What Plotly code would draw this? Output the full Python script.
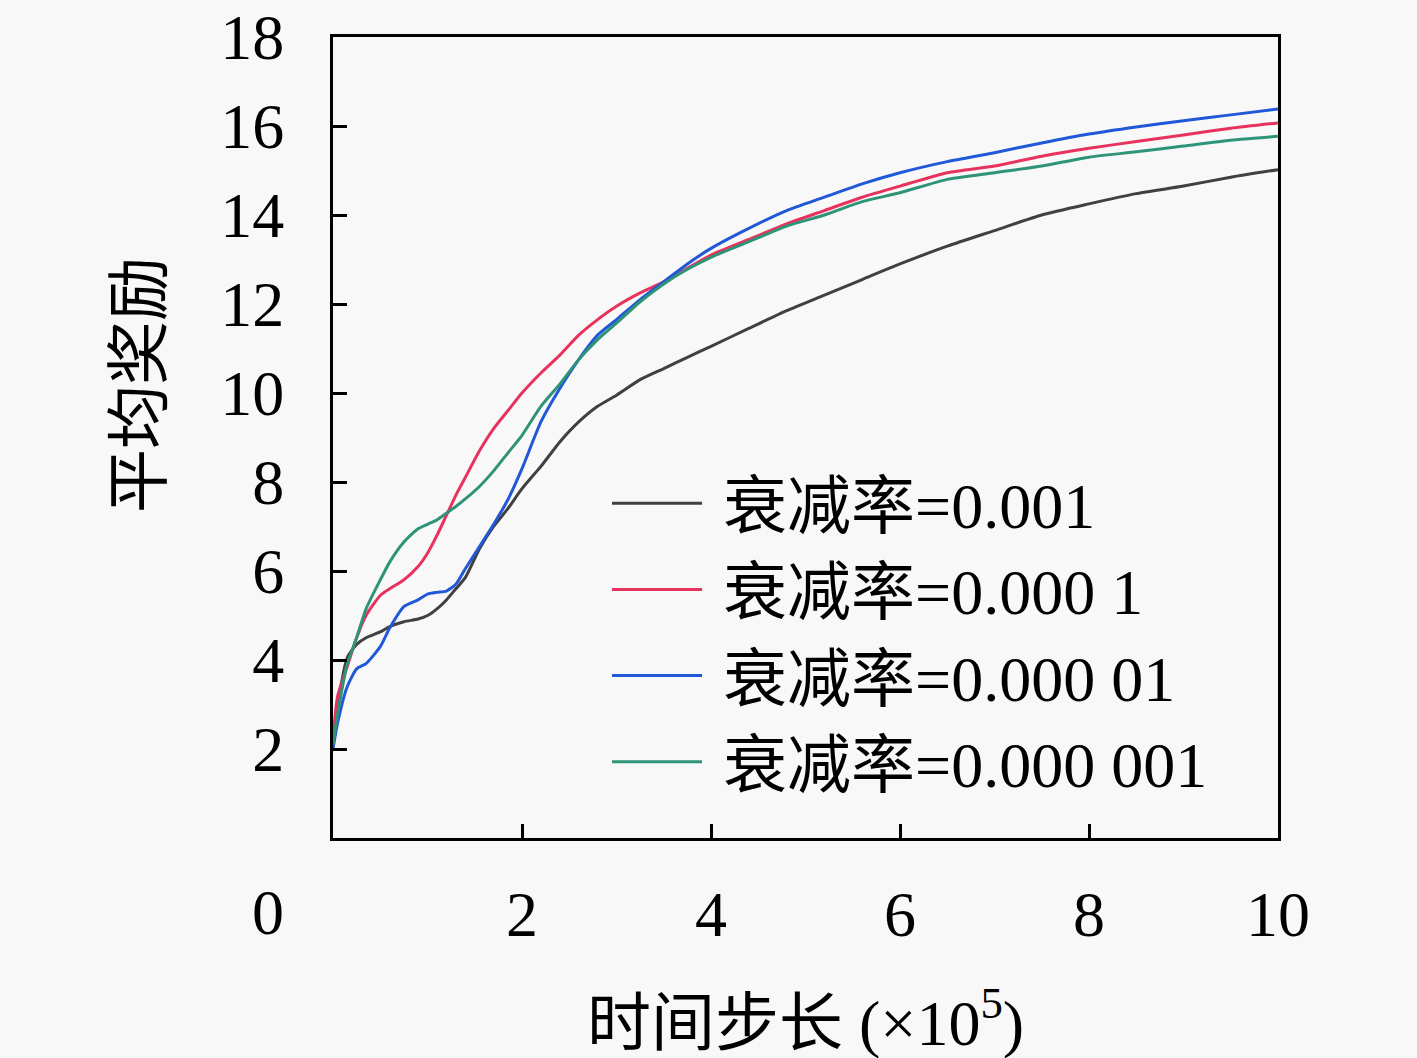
import plotly.graph_objects as go

# time steps (x 1e5)
steps = [0, 0.05, 0.15, 0.25, 0.35, 0.5, 0.6, 0.75, 0.9, 1.0, 1.1, 1.2, 1.3, 1.4,
         1.55, 1.7, 1.85, 2.0, 2.2, 2.4, 2.6, 2.8, 3.0, 3.25, 3.5, 3.75, 4.0,
         4.4, 4.8, 5.2, 5.6, 6.0, 6.5, 7.0, 7.5, 8.0, 8.5, 9.0, 9.5, 10.0]

# average reward per decay rate
reward_1e3 = [2.2, 3.0, 4.05, 4.35, 4.5, 4.63, 4.75, 4.86, 4.92, 5.0, 5.15, 5.35, 5.6, 5.85,
              6.5, 7.0, 7.4, 7.85, 8.35, 8.9, 9.35, 9.7, 9.95, 10.3, 10.55, 10.8, 11.05,
              11.45, 11.85, 12.2, 12.55, 12.9, 13.3, 13.65, 14.0, 14.25, 14.48, 14.65, 14.85, 15.02]
reward_1e4 = [2.2, 3.2, 3.85, 4.5, 5.0, 5.45, 5.6, 5.8, 6.1, 6.4, 6.8, 7.25, 7.7, 8.1,
              8.7, 9.2, 9.6, 10.0, 10.45, 10.85, 11.3, 11.65, 11.95, 12.25, 12.5, 12.8, 13.1,
              13.45, 13.8, 14.1, 14.4, 14.65, 14.95, 15.1, 15.32, 15.5, 15.65, 15.8, 15.95, 16.07]
reward_1e5 = [2.0, 2.6, 3.4, 3.8, 3.92, 4.3, 4.72, 5.2, 5.35, 5.48, 5.52, 5.55, 5.7, 6.05,
              6.55, 7.05, 7.6, 8.3, 9.35, 10.1, 10.75, 11.3, 11.65, 12.1, 12.5, 12.9, 13.25,
              13.7, 14.1, 14.4, 14.7, 14.95, 15.2, 15.4, 15.62, 15.82, 15.98, 16.12, 16.25, 16.38]
reward_1e6 = [2.1, 2.8, 3.9, 4.5, 5.15, 5.8, 6.2, 6.65, 6.95, 7.05, 7.15, 7.3, 7.45, 7.62,
              7.9, 8.25, 8.65, 9.05, 9.7, 10.2, 10.75, 11.2, 11.57, 12.05, 12.45, 12.78, 13.05,
              13.4, 13.75, 14.0, 14.3, 14.5, 14.8, 14.95, 15.1, 15.3, 15.42, 15.55, 15.68, 15.77]

names = ["衰减率=0.001", "衰减率=0.000 1", "衰减率=0.000 01", "衰减率=0.000 001"]
colors = ["#404040", "#e8325e", "#2058d8", "#2e9478"]
series = [reward_1e3, reward_1e4, reward_1e5, reward_1e6]

xticks = [2, 4, 6, 8, 10]
yticks = [2, 4, 6, 8, 10, 12, 14, 16, 18]

FONT = "Liberation Serif, Noto Sans CJK SC, serif"
FS = 64

fig = go.Figure()
for i, (name, ys) in enumerate(zip(names, series)):
    fig.add_trace(go.Scatter(
        x=steps, y=ys, name="\u00a0" + name, mode="lines",
        line=dict(color=colors[i], width=3, shape="spline", smoothing=0.6),
        legendgroup=str(i),
    ))

fig.update_layout(
    width=1417, height=1058,
    margin=dict(l=333, r=139, t=37, b=220),
    paper_bgcolor="#f8f8f8", plot_bgcolor="#f8f8f8",
    font=dict(family=FONT, size=FS, color="black"),
    showlegend=True,
    legend=dict(
        x=0.29, y=0.478, xanchor="left", yanchor="top",
        bgcolor="rgba(0,0,0,0)", font=dict(size=FS),
        tracegroupgap=0, itemwidth=90,
    ),
)

fig.update_xaxes(
    range=[0, 10], tickvals=xticks, ticktext=[str(v) for v in xticks],
    showgrid=False, zeroline=False, automargin=False,
    showline=True, linecolor="black", linewidth=3, mirror=True,
    ticks="inside", ticklen=14, tickwidth=3, tickcolor="black",
    ticklabelstandoff=18,
)
fig.update_yaxes(
    range=[0, 18], tickvals=yticks, ticktext=[str(v) for v in yticks],
    showgrid=False, zeroline=False, automargin=False,
    showline=True, linecolor="black", linewidth=3, mirror=True,
    ticks="inside", ticklen=14, tickwidth=3, tickcolor="black",
    ticklabelstandoff=33,
)

def dom_x(px):
    return (px - 333) / 945

def dom_y(py):
    return (838 - py) / 801

# shared origin label
fig.add_annotation(text="0", xref="x domain", yref="y domain",
                   x=dom_x(268), y=dom_y(912), xanchor="center", yanchor="middle",
                   showarrow=False, font=dict(size=FS))
fig.add_annotation(text="时间步长 (×10<sup>5</sup>)", xref="x domain", yref="y domain",
                   x=dom_x(805), y=dom_y(1018), xanchor="center", yanchor="middle",
                   showarrow=False, font=dict(size=FS))
fig.add_annotation(text="平均奖励", xref="x domain", yref="y domain",
                   x=dom_x(140), y=dom_y(385), xanchor="center", yanchor="middle",
                   showarrow=False, textangle=-90, font=dict(size=FS))

fig.write_html("out.html", config={"displayModeBar": False},
               post_script="document.body.style.margin='0';")
